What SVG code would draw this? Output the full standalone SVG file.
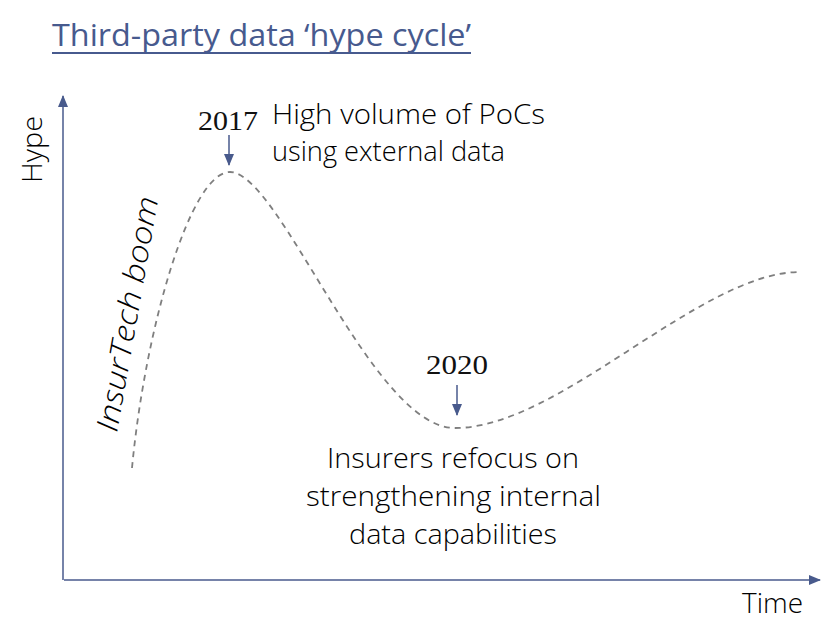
<svg xmlns="http://www.w3.org/2000/svg" width="834" height="644" viewBox="0 0 834 644">
<style>
.t{font-family:"Open Sans","Liberation Sans",sans-serif;fill:#000;font-weight:300}
.ax{stroke:#485A8C;stroke-width:1.5;fill:none}
.curve{stroke:#7F7F7F;stroke-width:1.8;fill:none;stroke-dasharray:6 5}
.yr{font-family:"Liberation Serif","Times New Roman",serif;font-size:28px;font-weight:400;fill:#111}
</style>
<defs>
<marker id="ah" viewBox="0 0 12 10" refX="11" refY="5" markerWidth="12" markerHeight="10" markerUnits="userSpaceOnUse" orient="auto">
<path d="M0,0 L12,5 L0,10 Z" fill="#485A8C"/>
</marker>
<marker id="sm" viewBox="0 0 12 10" refX="11" refY="5" markerWidth="13" markerHeight="10" markerUnits="userSpaceOnUse" orient="auto">
<path d="M0,0 L12,5 L0,10 Z" fill="#485A8C"/>
</marker>
</defs>
<g id="title">
<text x="52" y="46" style="font-family:'Open Sans','Liberation Sans',sans-serif;font-size:31px;fill:#475A8E" textLength="419" lengthAdjust="spacingAndGlyphs">Third-party data ‘hype cycle’</text>
<line x1="52" y1="53" x2="471" y2="53" stroke="#475A8E" stroke-width="1.8"/>
</g>
<g id="connectors">
<line class="ax" x1="63" y1="580" x2="63" y2="96" marker-end="url(#ah)"/>
<line class="ax" x1="64" y1="580" x2="820" y2="580" marker-end="url(#ah)"/>
<line class="ax" x1="229" y1="135" x2="229" y2="165" marker-end="url(#sm)"/>
<line class="ax" x1="457" y1="385" x2="457" y2="415" marker-end="url(#sm)"/>
</g>
<g id="curve">
<path class="curve" d="M132,468 C145,330 190,172 230,172 C280,172 372,428 455,428 C560,428 700,272 800,272"/>
</g>
<g id="axis-y">
<text class="t" transform="translate(42,183) rotate(-90)" font-size="28" textLength="67" lengthAdjust="spacingAndGlyphs">Hype</text>
</g>
<g id="axis-x">
<text class="t" x="742" y="613" font-size="28" textLength="61" lengthAdjust="spacingAndGlyphs">Time</text>
</g>
<g id="boom">
<text class="t" transform="translate(117,433) rotate(-80)" font-size="30" font-style="italic" textLength="238" lengthAdjust="spacingAndGlyphs">InsurTech boom</text>
</g>
<g id="y2017">
<text class="yr" x="198" y="130" textLength="60" lengthAdjust="spacingAndGlyphs">2017</text>
<text class="t" x="272" y="124" font-size="28" textLength="273" lengthAdjust="spacingAndGlyphs">High volume of PoCs</text>
<text class="t" x="272" y="161" font-size="28" textLength="233" lengthAdjust="spacingAndGlyphs">using external data</text>
</g>
<g id="y2020">
<text class="yr" x="426" y="374" textLength="62" lengthAdjust="spacingAndGlyphs">2020</text>
</g>
<g id="insurers">
<text class="t" x="327" y="468" font-size="28" textLength="252" lengthAdjust="spacingAndGlyphs">Insurers refocus on</text>
<text class="t" x="306" y="506" font-size="28" textLength="295" lengthAdjust="spacingAndGlyphs">strengthening internal</text>
<text class="t" x="349" y="544" font-size="28" textLength="208" lengthAdjust="spacingAndGlyphs">data capabilities</text>
</g>
</svg>
